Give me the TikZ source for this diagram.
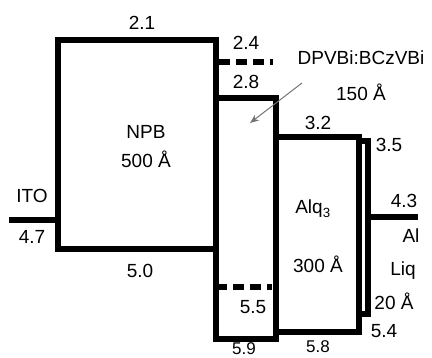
\documentclass[tikz,border=0pt]{standalone}
\usepackage{fontspec}
\setmainfont{Liberation Sans}
\usetikzlibrary{arrows.meta}
\begin{document}
\begin{tikzpicture}[x=1pt,y=-1pt,
  lvl/.style={line width=5.5pt, line join=miter},
  dashlvl/.style={line width=5.5pt, dash pattern=on 11pt off 6pt},
  lbl/.style={font=\fontsize{19}{22}\selectfont, inner sep=0pt},
  lowlbl/.style={font=\fontsize{17}{20}\selectfont, inner sep=0pt}]
\useasboundingbox (0,0) rectangle (432,358);
% NPB + DPVBi
\draw[lvl] (216,249) -- (58,249) -- (58,40) -- (216,40) -- (216,339) -- (276,339) -- (276,98) -- (216,98);
% Alq3
\draw[lvl] (276,332) -- (359,332) -- (359,137) -- (276,137);
% Liq
\draw[lvl] (359,314) -- (368,314) -- (368,141) -- (359,141);
% electrodes
\draw[lvl] (9,220) -- (58,220);
\draw[lvl] (368,217) -- (418,217);
% dashed levels
\draw[dashlvl] (219,62) -- (273,62);
\draw[dashlvl] (216,287) -- (272,287);
% labels
\node[lbl] (l21) at (142,23) {2.1};
\node[lbl] (l24) at (246,43) {2.4};
\node[lbl] (l28) at (246,82) {2.8};
\node[lbl] (ldp) at (361,58) {DPVBi:BCzVBi};
\node[lbl] (l150) at (361,92) {150 Å};
\node[lbl] (lnpb) at (146,132) {NPB};
\node[lbl] (l500) at (146,159) {500 Å};
\node[lbl] (l32) at (318,123) {3.2};
\node[lbl] (l35) at (389,145) {3.5};
\node[lbl] (lito) at (32,196) {ITO};
\node[lbl] (l47) at (32,237) {4.7};
\node[lbl] (l43) at (404,201) {4.3};
\node[lbl] (lal) at (411,236) {Al};
\node[lbl] (lalq) at (313,209) {Alq\textsubscript{3}};
\node[lbl] (l300) at (318,264) {300 Å};
\node[lbl] (lliq) at (403,271) {Liq};
\node[lbl] (l50) at (140,271) {5.0};
\node[lbl] (l20) at (394,301) {20 Å};
\node[lbl] (l55) at (253,307) {5.5};
\node[lbl] (l54) at (384,331) {5.4};
\node[lowlbl] (l59) at (244,349) {5.9};
\node[lowlbl] (l58) at (318,347) {5.8};
% arrow
\coordinate (arrS) at (302,83);
\coordinate (arrE) at (250,123);
\draw[color=black!55, line width=1pt, -{Stealth[length=9pt,width=7pt]}] (arrS) -- (arrE);
\end{tikzpicture}
\end{document}
